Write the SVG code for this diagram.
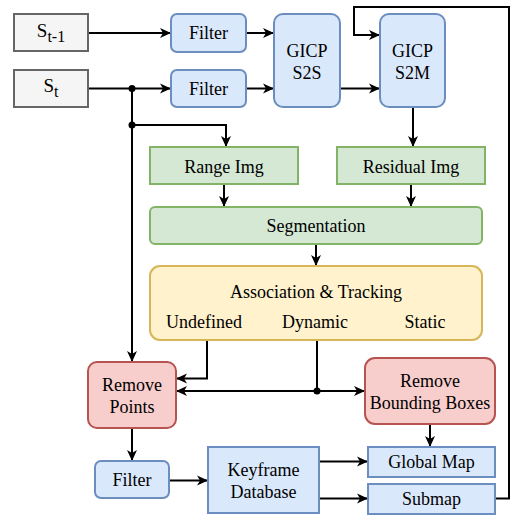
<svg xmlns="http://www.w3.org/2000/svg" width="525" height="519" viewBox="0 0 525 519">
<defs>
<marker id="arr" markerUnits="userSpaceOnUse" markerWidth="12" markerHeight="12" viewBox="0 0 12 12" refX="11" refY="6" orient="auto">
<path d="M0,1 L11,6 L0,11 L3,6 Z" fill="#000"/>
</marker>
<style>
text{font-family:"Liberation Serif","Times New Roman",serif;font-size:18px;fill:#000;text-anchor:middle;}
.src{fill:#f5f5f5;stroke:#666;stroke-width:2;}
.blue{fill:#dae8fc;stroke:#6c8ebf;stroke-width:2;}
.green{fill:#d5e8d4;stroke:#82b366;stroke-width:2;}
.yellow{fill:#fff2cc;stroke:#d6b656;stroke-width:2;}
.red{fill:#f8cecc;stroke:#b85450;stroke-width:2;}
.c{fill:none;stroke:#000;stroke-width:2;}
.a{marker-end:url(#arr);}
.big{font-size:19px;}
.sub{font-size:16px;}
</style>
</defs>
<g id="connectors">
<path class="c a" d="M88,33 H171"/>
<path class="c a" d="M88,88.5 H171"/>
<path class="c a" d="M246,33 H274"/>
<path class="c a" d="M246,88.5 H274"/>
<path class="c a" d="M340,88.5 H380"/>
<path class="c a" d="M413,107 V147"/>
<path class="c a" d="M495,498.5 H509 V7 H354 V35 H380"/>
<path class="c a" d="M132,88.5 V362"/>
<path class="c a" d="M132,125 H226 V147"/>
<path class="c a" d="M224,184.5 V207"/>
<path class="c a" d="M411,184.5 V207"/>
<path class="c a" d="M316,244 V266"/>
<path class="c a" d="M207,340 V378.5 H176"/>
<path class="c" d="M317,340 V391"/>
<path class="c a" d="M317,391 H176"/>
<path class="c a" d="M317,391 H365"/>
<path class="c a" d="M430,424 V447"/>
<path class="c a" d="M132,428 V461"/>
<path class="c a" d="M169,480.5 H208"/>
<path class="c a" d="M319,461.5 H368"/>
<path class="c a" d="M319,498.5 H368"/>
<circle cx="132" cy="88.5" r="3.5" fill="#000"/>
<circle cx="132" cy="125" r="3.5" fill="#000"/>
<circle cx="317" cy="391" r="3.5" fill="#000"/>
</g>
<g id="st1"><rect class="src" x="14" y="14" width="74" height="37"/><text class="big" x="51" y="37">S<tspan class="sub" dy="5">t-1</tspan></text></g>
<g id="st"><rect class="src" x="14" y="70" width="74" height="37"/><text class="big" x="51" y="92">S<tspan class="sub" dy="5">t</tspan></text></g>
<g id="filter1"><rect class="blue" x="171" y="14" width="75" height="38" rx="6"/><text x="208.5" y="39">Filter</text></g>
<g id="filter2"><rect class="blue" x="171" y="70" width="75" height="37" rx="6"/><text x="208.5" y="95">Filter</text></g>
<g id="gicp_s2s"><rect class="blue" x="274" y="14" width="66" height="93" rx="9"/><text x="307" y="57">GICP</text><text x="307" y="79">S2S</text></g>
<g id="gicp_s2m"><rect class="blue" x="380" y="14" width="65" height="93" rx="9"/><text x="412.5" y="57">GICP</text><text x="412.5" y="79">S2M</text></g>
<g id="range"><rect class="green" x="150" y="147" width="148" height="37"/><text x="224" y="173">Range Img</text></g>
<g id="residual"><rect class="green" x="337" y="147" width="148" height="37"/><text x="411" y="173">Residual Img</text></g>
<g id="segmentation"><rect class="green" x="150" y="207" width="332" height="37" rx="5"/><text x="316" y="232">Segmentation</text></g>
<g id="association"><rect class="yellow" x="150" y="266" width="332" height="74" rx="10"/><text x="316" y="298">Association &amp; Tracking</text><text x="204" y="328">Undefined</text><text x="315" y="328">Dynamic</text><text x="425" y="328">Static</text></g>
<g id="remove_points"><rect class="red" x="88" y="362" width="88" height="66" rx="9"/><text x="132" y="391">Remove</text><text x="132" y="413">Points</text></g>
<g id="remove_bb"><rect class="red" x="365" y="358" width="130" height="66" rx="10"/><text x="430" y="387">Remove</text><text x="430" y="409">Bounding Boxes</text></g>
<g id="filter3"><rect class="blue" x="95" y="461" width="74" height="37" rx="6"/><text x="132" y="486">Filter</text></g>
<g id="keyframe"><rect class="blue" x="208" y="447" width="111" height="66"/><text x="263.5" y="476">Keyframe</text><text x="263.5" y="498">Database</text></g>
<g id="global_map"><rect class="blue" x="368" y="447" width="127" height="30"/><text x="431.5" y="468">Global Map</text></g>
<g id="submap"><rect class="blue" x="368" y="484" width="127" height="30"/><text x="431.5" y="505">Submap</text></g>
</svg>
